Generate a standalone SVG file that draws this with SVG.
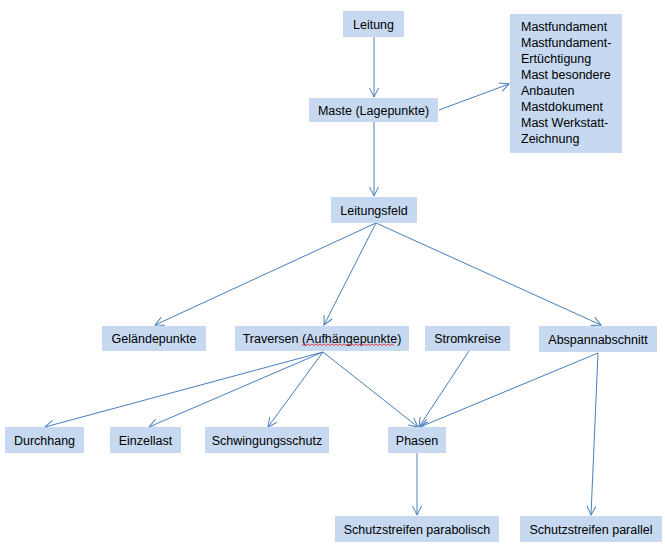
<svg xmlns="http://www.w3.org/2000/svg" width="665" height="551" viewBox="0 0 665 551">
<style>
.b{fill:#c6d9f1;}
.t{font-family:"Liberation Sans",Arial,sans-serif;font-size:12.5px;fill:#000;text-anchor:middle;}
.l{font-family:"Liberation Sans",Arial,sans-serif;font-size:12.5px;fill:#000;}
.c{stroke:#4a7ebb;stroke-width:1;fill:none;marker-end:url(#a);}
</style>
<defs>
<marker id="a" markerUnits="userSpaceOnUse" markerWidth="12" markerHeight="12" refX="0" refY="0" viewBox="-10 -6 12 12" orient="auto" overflow="visible">
<path d="M-9,-4.5 L0,0 L-9,4.5" fill="none" stroke="#4a7ebb" stroke-width="1"/>
</marker>
</defs>
<rect width="665" height="551" fill="#fff"/>
<g id="connectors">
<line class="c" x1="374" y1="37" x2="374" y2="97"/>
<line class="c" x1="439" y1="110" x2="509" y2="84"/>
<line class="c" x1="374" y1="122" x2="374" y2="196"/>
<line class="c" x1="376" y1="223" x2="155" y2="325"/>
<line class="c" x1="376" y1="223" x2="324" y2="325"/>
<line class="c" x1="376" y1="223" x2="601" y2="325"/>
<line class="c" x1="323" y1="352" x2="45" y2="427"/>
<line class="c" x1="323" y1="352" x2="149" y2="427"/>
<line class="c" x1="323" y1="352" x2="268" y2="427"/>
<line class="c" x1="323" y1="352" x2="418" y2="427"/>
<line class="c" x1="469" y1="351" x2="419" y2="427"/>
<line class="c" x1="598" y1="353" x2="420" y2="427"/>
<line class="c" x1="598" y1="353" x2="591" y2="515"/>
<line class="c" x1="417" y1="453" x2="417" y2="515"/>
</g>
<g id="leitung"><rect class="b" x="343" y="11" width="61" height="26"/><text class="t" x="373.5" y="28.5">Leitung</text></g>
<g id="maste"><rect class="b" x="309" y="98" width="129" height="24"/><text class="t" x="373.5" y="114.5">Maste (Lagepunkte)</text></g>
<g id="mastliste"><rect class="b" x="510" y="14" width="112" height="139"/>
<text class="l" x="521" y="31">Mastfundament</text>
<text class="l" x="521" y="47">Mastfundament-</text>
<text class="l" x="521" y="63">Ertüchtigung</text>
<text class="l" x="521" y="79">Mast besondere</text>
<text class="l" x="521" y="95">Anbauten</text>
<text class="l" x="521" y="111">Mastdokument</text>
<text class="l" x="521" y="127">Mast Werkstatt-</text>
<text class="l" x="521" y="143">Zeichnung</text>
</g>
<g id="leitungsfeld"><rect class="b" x="331" y="197" width="86" height="26"/><text class="t" x="374" y="214.5">Leitungsfeld</text></g>
<g id="gelaendepunkte"><rect class="b" x="102" y="326" width="104" height="25"/><text class="t" x="154" y="343">Geländepunkte</text></g>
<g id="traversen"><rect class="b" x="235" y="326" width="174" height="25"/><text class="t" x="322" y="343">Traversen (Aufhängepunkte)</text>
<path d="M302,345.5 l2,-1.5 l2,1.5 l2,-1.5 l2,1.5 l2,-1.5 l2,1.5 l2,-1.5 l2,1.5 l2,-1.5 l2,1.5 l2,-1.5 l2,1.5 l2,-1.5 l2,1.5 l2,-1.5 l2,1.5 l2,-1.5 l2,1.5 l2,-1.5 l2,1.5 l2,-1.5 l2,1.5 l2,-1.5 l2,1.5 l2,-1.5 l2,1.5 l2,-1.5 l2,1.5 l2,-1.5 l2,1.5 l2,-1.5 l2,1.5 l2,-1.5 l2,1.5 l2,-1.5 l2,1.5 l2,-1.5 l2,1.5 l2,-1.5 l2,1.5 l2,-1.5 l2,1.5 l2,-1.5 l2,1.5 l2,-1.5 l2,1.5" fill="none" stroke="#e02020" stroke-width="0.8"/></g>
<g id="stromkreise"><rect class="b" x="425" y="326" width="85" height="25"/><text class="t" x="467.5" y="343">Stromkreise</text></g>
<g id="abspannabschnitt"><rect class="b" x="539" y="326" width="118" height="26"/><text class="t" x="598" y="343.5">Abspannabschnitt</text></g>
<g id="durchhang"><rect class="b" x="5" y="427" width="79" height="26"/><text class="t" x="44.5" y="444.5">Durchhang</text></g>
<g id="einzellast"><rect class="b" x="110" y="427" width="71" height="26"/><text class="t" x="145.5" y="444.5">Einzellast</text></g>
<g id="schwingungsschutz"><rect class="b" x="205" y="427" width="124" height="26"/><text class="t" x="267" y="444.5">Schwingungsschutz</text></g>
<g id="phasen"><rect class="b" x="388" y="427" width="58" height="26"/><text class="t" x="417" y="444.5">Phasen</text></g>
<g id="schutzstreifen-parabolisch"><rect class="b" x="335" y="516" width="164" height="26"/><text class="t" x="417" y="533.5">Schutzstreifen parabolisch</text></g>
<g id="schutzstreifen-parallel"><rect class="b" x="520" y="516" width="142" height="26"/><text class="t" x="591" y="533.5">Schutzstreifen parallel</text></g>
</svg>
